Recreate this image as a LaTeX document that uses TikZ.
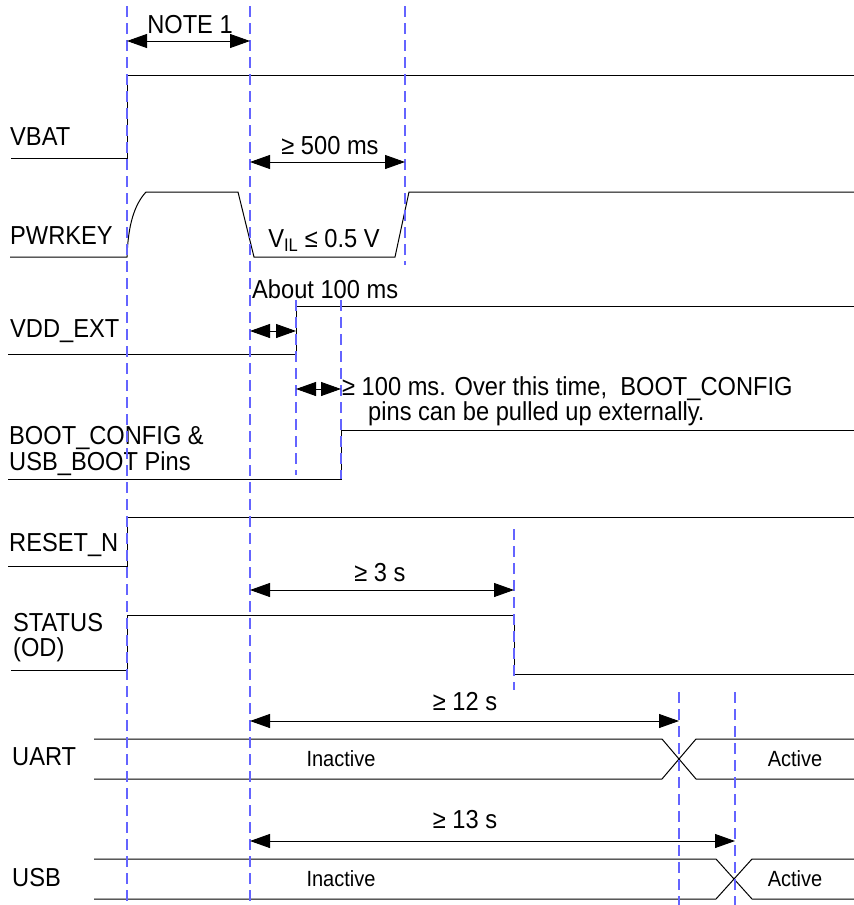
\documentclass[tikz,border=0pt]{standalone}
\usepackage{fontspec}
\setmainfont{Liberation Sans}[FakeStretch=0.91]
\usetikzlibrary{arrows.meta}
\definecolor{guide}{RGB}{100,100,255}
\newcommand\sigfont{\fontsize{26}{25}\selectfont}
\newcommand\busfont{\fontsize{22}{22}\selectfont}
\begin{document}
\begin{tikzpicture}[x=1pt,y=-1pt,
    sig/.style={line width=1pt},
    guideline/.style={draw=guide,line width=1.1pt,dash pattern=on 11pt off 6pt},
    dim/.style={{Triangle[length=20pt,width=14pt]}-{Triangle[length=20pt,width=14pt]},line width=0.9pt},
    lbl/.style={anchor=west,inner sep=0pt,font=\sigfont,align=left},
    txt/.style={inner sep=0pt,font=\sigfont},
    bus/.style={inner sep=0pt,font=\busfont}]
  \useasboundingbox (0,0) rectangle (854,905);

  % signal names
  \node[lbl] (vbat) at (10,137) {VBAT};
  \node[lbl] (pwrkey) at (10,236) {PWRKEY};
  \node[lbl] (vddext) at (10,331) {VDD\_EXT};
  \node[lbl] (boot) at (9,451) {BOOT\_CONFIG \&\\USB\_BOOT Pins};
  \node[lbl] (reset) at (9,545) {RESET\_N};
  \node[lbl] (status) at (13,638) {STATUS\\(OD)};
  \node[lbl] (uart) at (12,757) {UART};
  \node[lbl] (usb) at (12,878) {USB};

  % waveforms
  \draw[sig] (11,158) -- (127,158) -- (127,75) -- (854,75);
  \draw[sig] (10,257) -- (127,257) .. controls (128,226) and (134,205) .. (146,192)
    -- (238,192) -- (254,257) -- (395,257) -- (409,192) -- (854,192);
  \draw[sig] (8,354) -- (296,354) -- (296,306) -- (854,306);
  \draw[sig] (8,479) -- (341,479) -- (341,430) -- (854,430);
  \draw[sig] (8,566) -- (127,566) -- (127,517) -- (854,517);
  \draw[sig] (11,670) -- (127,670) -- (127,615) -- (514,615) -- (514,674) -- (854,674);
  \draw[sig] (94,739) -- (662,739) -- (696,779) -- (854,779);
  \draw[sig] (94,779) -- (662,779) -- (696,739) -- (854,739);
  \draw[sig] (94,859) -- (716,859) -- (752,899) -- (854,899);
  \draw[sig] (94,899) -- (716,899) -- (752,859) -- (854,859);

  % time markers
  \draw[guideline] (127,6) -- (127,905);
  \draw[guideline] (250,6) -- (250,905);
  \draw[guideline] (405,6) -- (405,265);
  \draw[guideline] (296,300) -- (296,475);
  \draw[guideline] (341,300) -- (341,479);
  \draw[guideline] (514,529) -- (514,690);
  \draw[guideline] (679,692) -- (679,905);
  \draw[guideline] (735,692) -- (735,905);

  % dimension arrows
  \coordinate (n1a) at (127,41);  \coordinate (n1b) at (250,41);
  \coordinate (p5a) at (250,162); \coordinate (p5b) at (405,162);
  \coordinate (v1a) at (250,331); \coordinate (v1b) at (296,331);
  \coordinate (b1a) at (296,389); \coordinate (b1b) at (341,389);
  \coordinate (s3a) at (250,590); \coordinate (s3b) at (514,590);
  \coordinate (u12a) at (250,721); \coordinate (u12b) at (679,721);
  \coordinate (u13a) at (250,841); \coordinate (u13b) at (735,841);
  \draw[dim] (n1a) -- (n1b);
  \draw[dim] (p5a) -- (p5b);
  \draw[dim] (v1a) -- (v1b);
  \draw[dim] (b1a) -- (b1b);
  \draw[dim] (s3a) -- (s3b);
  \draw[dim] (u12a) -- (u12b);
  \draw[dim] (u13a) -- (u13b);

  \node[txt] (note1) at (190,25) {NOTE 1};
  \node[txt] (t500) at (330,146) {≥ 500 ms};
  \node[txt] (vil) at (324,240) {V\textsubscript{IL} ≤ 0.5 V};
  \node[txt,anchor=west] (about) at (252,289) {About 100 ms};
  \node[txt,anchor=west] (hold1) at (342,389) {≥ 100 ms. Over this time,\ \ BOOT\_CONFIG};
  \node[txt,anchor=west] (hold2) at (368,414) {pins can be pulled up externally.};
  \node[txt] (t3s) at (380,573) {≥ 3 s};
  \node[txt] (t12s) at (465,702) {≥ 12 s};
  \node[txt] (t13s) at (465,820) {≥ 13 s};
  \node[bus] (uartoff) at (341,759) {Inactive};
  \node[bus] (uarton) at (795,759) {Active};
  \node[bus] (usboff) at (341,879) {Inactive};
  \node[bus] (usbon) at (795,879) {Active};
\end{tikzpicture}
\end{document}
